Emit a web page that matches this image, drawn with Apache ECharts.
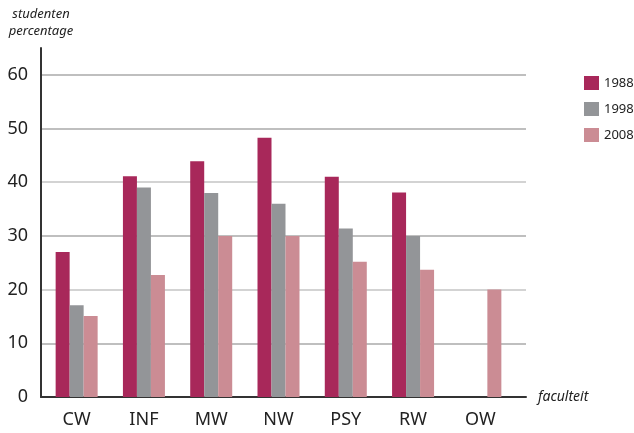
<!DOCTYPE html>
<html>
<head>
    <meta charset="UTF-8">
    <title>studenten percentage</title>
    <script src="https://cdn.jsdelivr.net/npm/echarts@6/dist/echarts.min.js"></script>
</head>
<body style="margin:0">
<div id="container" style="width: 634px; height: 433px;"></div>
<script>
    // faculteiten en percentages per jaar
    var faculteiten = ['CW', 'INF', 'MW', 'NW', 'PSY', 'RW', 'OW'];
    var jaren = ['1988', '1998', '2008'];
    var p1988 = [27, 41.1, 43.9, 48.3, 41, 38.1, null];
    var p1998 = [17.1, 39, 38, 36, 31.4, 30, null];
    var p2008 = [15.1, 22.7, 30, 30, 25.2, 23.7, 20];
    var yTicks = [0, 10, 20, 30, 40, 50, 60];

    var kleuren = ['#a8285a', '#939598', '#cb8c94'];
    var font = 'Noto Sans';

    var mychart = echarts.init(document.getElementById('container'));

    // staven komen in grid 1 (iets smaller), rasterlijnen en assen in grid 0
    function serie(naam, data) {
        return {
            name: naam,
            type: 'bar',
            xAxisIndex: 1,
            yAxisIndex: 1,
            data: data,
            barWidth: 14,
            barGap: 0,
            barCategoryGap: '38%'
        };
    }

    var option = {
        animation: false,
        color: kleuren,
        textStyle: { fontFamily: font },
        grid: [
            { left: 41, right: 108, top: 48, bottom: 36 },
            { left: 43, right: 120, top: 48, bottom: 36 }
        ],
        legend: {
            data: jaren,
            orient: 'vertical',
            left: 579,
            top: 71,
            itemWidth: 15,
            itemHeight: 14,
            itemGap: 12,
            icon: 'rect',
            textStyle: { fontSize: 13, color: '#222', fontFamily: font }
        },
        xAxis: [{
            gridIndex: 0,
            type: 'category',
            data: faculteiten,
            name: 'faculteit',
            nameLocation: 'end',
            nameGap: 12,
            nameTextStyle: { fontStyle: 'italic', fontSize: 14, color: '#222', verticalAlign: 'middle' },
            axisLine: { lineStyle: { color: '#333', width: 2 } },
            axisTick: { show: false },
            axisLabel: { show: false }
        }, {
            gridIndex: 1,
            type: 'category',
            data: faculteiten,
            axisLine: { show: false },
            axisTick: { show: false },
            axisLabel: { fontSize: 18, color: '#222', margin: 14 }
        }],
        yAxis: [{
            gridIndex: 0,
            type: 'value',
            min: 0,
            max: 65,
            interval: 10,
            name: 'studenten\npercentage',
            nameLocation: 'end',
            nameGap: 8,
            nameTextStyle: { fontStyle: 'italic', fontSize: 13, color: '#222', align: 'center', lineHeight: 17 },
            axisLine: { show: true, lineStyle: { color: '#333', width: 2 } },
            axisTick: { show: false },
            axisLabel: {
                fontSize: 18, color: '#222', margin: 13,
                formatter: function (v) { return yTicks.indexOf(v) >= 0 ? v : ''; }
            },
            splitLine: {
                lineStyle: {
                    color: ['#bbb', '#aaa', '#c4c4c4', '#aaa', '#c4c4c4', '#aaa', '#aaa', 'transparent'],
                    width: 1.5
                }
            }
        }, {
            gridIndex: 1,
            type: 'value',
            min: 0,
            max: 65,
            show: false,
            splitLine: { show: false }
        }],
        series: [
            serie(jaren[0], p1988),
            serie(jaren[1], p1998),
            serie(jaren[2], p2008)
        ]
    };

    mychart.setOption(option);
</script>
</body>
</html>
